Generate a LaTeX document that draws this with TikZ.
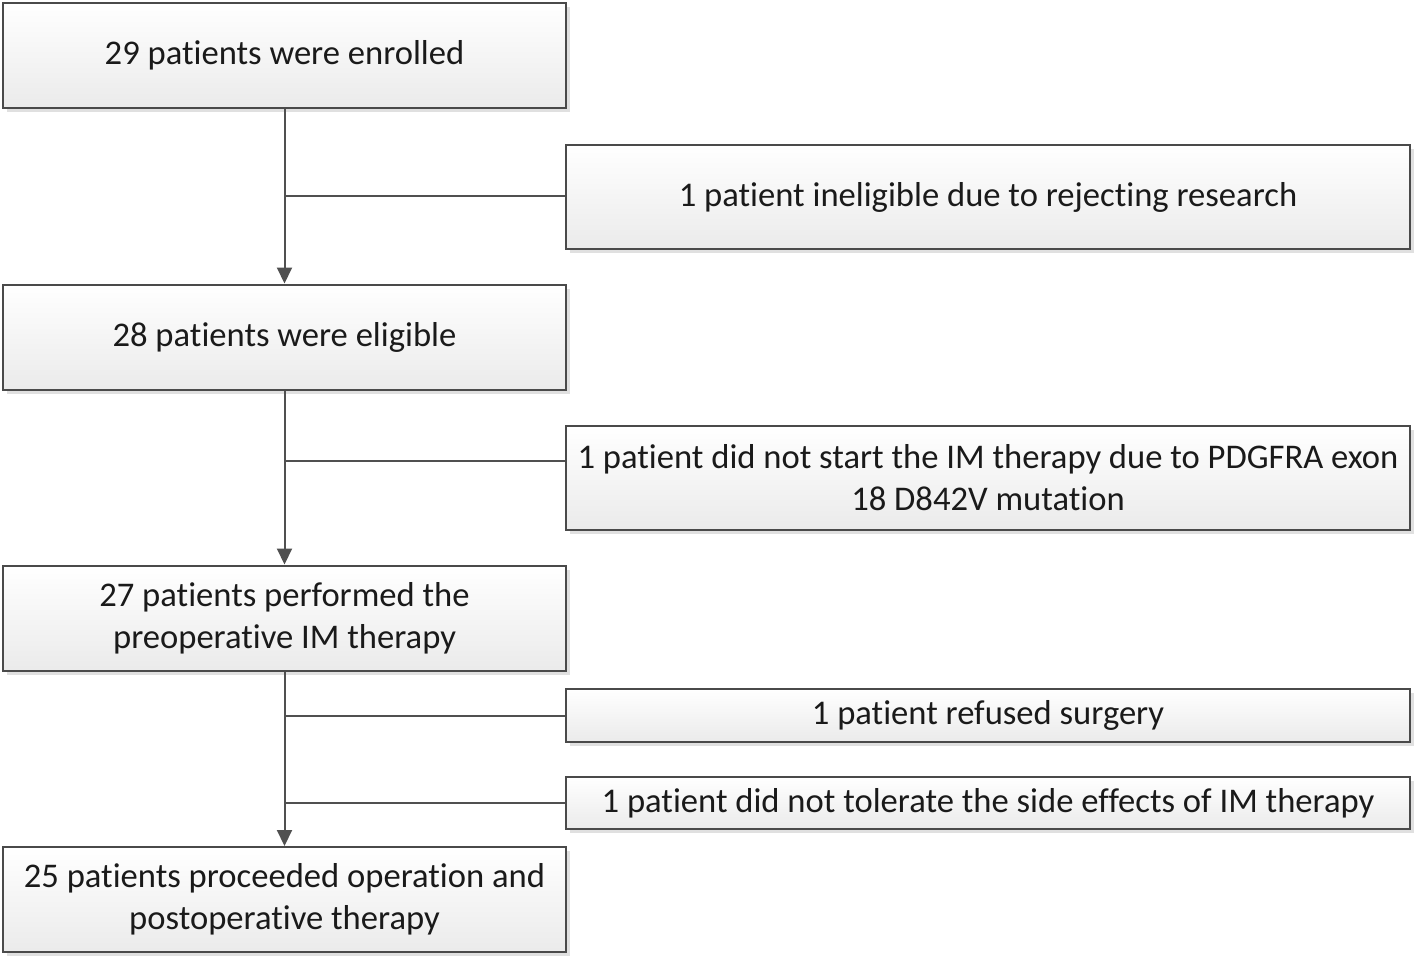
\documentclass[tikz,border=0pt]{standalone}
\usepackage{fontspec}
\setmainfont{Carlito}[Ligatures={NoCommon,NoContextual,NoRare},Contextuals=NoAlternate]
\usetikzlibrary{arrows.meta,shadows}
\definecolor{edge}{HTML}{4A4A4A}
\definecolor{line}{HTML}{505050}
\definecolor{txt}{HTML}{1A1A1A}
\tikzset{
  box/.style={draw=edge, line width=1pt, rectangle, align=center,
    top color=white, bottom color=black!8, text=txt,
    font=\fontsize{17.3}{21}\selectfont, inner sep=0pt,
    drop shadow={shadow xshift=2pt, shadow yshift=-2pt, fill=black!12, opacity=1}},
  leftbox/.style={box, minimum width=281.5pt, minimum height=52.5pt},
  rightbox/.style={box, minimum width=422pt},
  flow/.style={draw=line, line width=1pt, -{Triangle[length=8pt,width=7.5pt]}},
  branch/.style={draw=line, line width=1pt}
}
\begin{document}
\begin{tikzpicture}[x=0.5pt,y=-0.5pt]
\useasboundingbox (0,0) rectangle (1418,960);
\node[leftbox] (B1) at (284.5,55.5) {29 patients were enrolled};
\node[leftbox] (B2) at (284.5,337) {28 patients were eligible};
\node[leftbox] (B3) at (284.5,618) {27 patients performed the\\preoperative IM therapy};
\node[leftbox] (B4) at (284.5,899.5) {25 patients proceeded operation and\\postoperative therapy};
\node[rightbox, minimum height=52pt] (R1) at (988,197) {1 patient ineligible due to rejecting research};
\node[rightbox, minimum height=52pt] (R2) at (988,478) {1 patient did not start the IM therapy due to PDGFRA exon\\18 D842V mutation};
\node[rightbox, minimum height=26.5pt] (R3) at (988,715.5) {1 patient refused surgery};
\node[rightbox, minimum height=26pt] (R4) at (988,803) {1 patient did not tolerate the side effects of IM therapy};
\draw[flow] (B1.south) -- (B2.north);
\draw[flow] (B2.south) -- (B3.north);
\draw[flow] (B3.south) -- (B4.north);
\coordinate (j1) at (285,196);
\coordinate (j2) at (285,461);
\coordinate (j3) at (285,716);
\coordinate (j4) at (285,803);
\draw[branch] (j1) -- (j1 -| R1.west);
\draw[branch] (j2) -- (j2 -| R2.west);
\draw[branch] (j3) -- (j3 -| R3.west);
\draw[branch] (j4) -- (j4 -| R4.west);
\end{tikzpicture}
\end{document}
